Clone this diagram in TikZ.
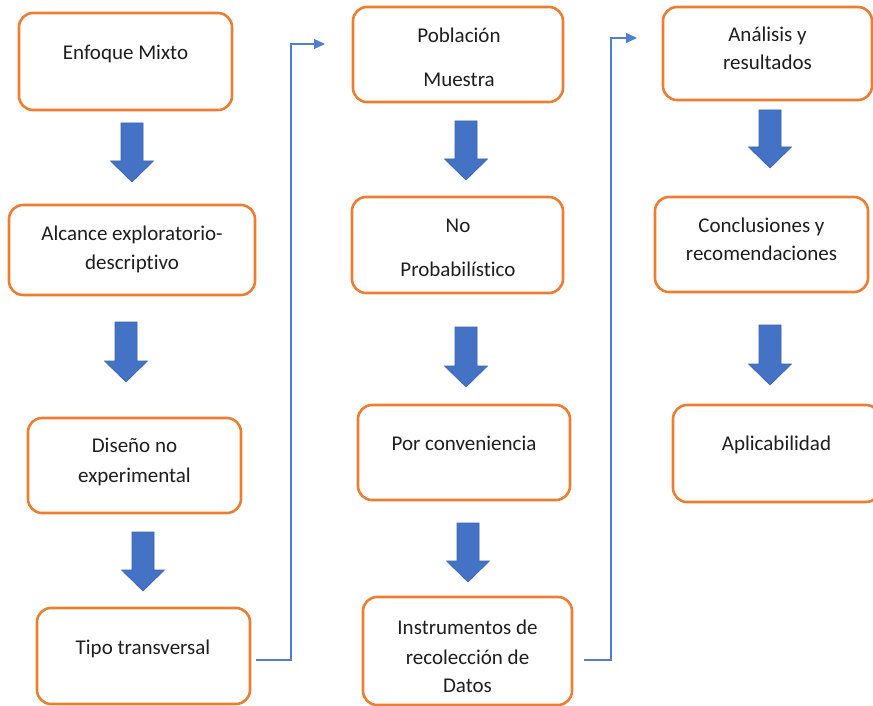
\documentclass[tikz,border=0pt]{standalone}
\usepackage{fontspec}
\setmainfont{Carlito}[Ligatures=NoCommon]
\usetikzlibrary{arrows.meta}
\definecolor{boxorange}{HTML}{ED7D31}
\definecolor{arrowblue}{HTML}{4472C4}
\definecolor{arrowedge}{HTML}{3A64AE}
\definecolor{linkblue}{HTML}{4F7FD0}
\definecolor{txtcol}{HTML}{1E1E1E}
\tikzset{
  flowbox/.style={draw=boxorange, line width=2.6pt, rounded corners=14pt, fill=white, inner sep=0pt, outer sep=0pt},
  txt/.style={anchor=base, inner sep=0pt, text=txtcol, font=\fontsize{21}{25}\selectfont},
  link/.style={draw=linkblue, line width=1.2pt},
  blockarrow/.style={fill=arrowblue, draw=arrowedge, line width=0.6pt},
}
\newcommand\blockarr[3]{%
  \begin{scope}[shift={(#1,#2)}]
    \pgfmathsetmacro\bl{#3-#2}
    \pgfmathsetmacro\bh{\bl-21}
    \draw[blockarrow] (-11,0) -- (11,0) -- (11,\bh) -- (21.5,\bh) -- (0,\bl) -- (-21.5,\bh) -- (-11,\bh) -- cycle;
  \end{scope}}
\begin{document}
\begin{tikzpicture}[x=1pt,y=-1pt]
\useasboundingbox[fill=white] (0,0) rectangle (873,706);
% boxes
\node[flowbox, minimum width=213pt, minimum height=97pt] (b1) at (125.5,61.5) {};
\node[flowbox, minimum width=246pt, minimum height=90pt] (b2) at (132,250) {};
\node[flowbox, minimum width=213pt, minimum height=95pt] (b3) at (134.5,465.5) {};
\node[flowbox, minimum width=213pt, minimum height=96pt] (b4) at (143.5,656) {};
\node[flowbox, minimum width=210pt, minimum height=95pt] (b5) at (458,54.5) {};
\node[flowbox, minimum width=211pt, minimum height=96pt] (b6) at (457.5,245) {};
\node[flowbox, minimum width=212pt, minimum height=95pt] (b7) at (464,452.5) {};
\node[flowbox, minimum width=209pt, minimum height=108pt] (b8) at (467.5,651) {};
\node[flowbox, minimum width=209pt, minimum height=93pt] (b9) at (767.5,53.5) {};
\node[flowbox, minimum width=213pt, minimum height=95pt] (b10) at (761.5,244.5) {};
\node[flowbox, minimum width=207pt, minimum height=97pt] (b11) at (776.5,453.5) {};
% texts
\node[txt] (t1) at (125.5,60) {Enfoque Mixto};
\node[txt] (t2a) at (132,240) {Alcance exploratorio-};
\node[txt] (t2b) at (132,269) {descriptivo};
\node[txt] (t3a) at (134.5,452) {Diseño no};
\node[txt] (t3b) at (134.5,482) {experimental};
\node[txt] (t4) at (143,654) {Tipo transversal};
\node[txt] (t5a) at (459,43) {Población};
\node[txt] (t5b) at (459,87) {Muestra};
\node[txt] (t6a) at (458,232) {No};
\node[txt] (t6b) at (458,276) {Probabilístico};
\node[txt] (t7) at (464,450) {Por conveniencia};
\node[txt] (t8a) at (467.5,634) {Instrumentos de};
\node[txt] (t8b) at (467.5,664) {recolección de};
\node[txt] (t8c) at (467.5,692) {Datos};
\node[txt] (t9a) at (767.5,42) {Análisis y};
\node[txt] (t9b) at (767.5,70) {resultados};
\node[txt] (t10a) at (761.5,232) {Conclusiones y};
\node[txt] (t10b) at (761.5,260) {recomendaciones};
\node[txt] (t11) at (776.5,450) {Aplicabilidad};
% block arrows
\blockarr{132}{123}{182}
\blockarr{126}{322}{382}
\blockarr{143}{532}{591}
\blockarr{466}{121}{180}
\blockarr{466}{327}{387}
\blockarr{468}{523}{582}
\blockarr{770}{110}{168}
\blockarr{770}{325}{385}
% connectors
\coordinate (l1a) at ([xshift=6pt,yshift=-4pt]b4.east);
\coordinate (l1b) at (325,44);
\draw[link,-{Triangle[length=11pt,width=10pt]}] (l1a) -- (291,660) -- (291,44) -- (l1b);
\coordinate (l2a) at ([xshift=12pt,yshift=-9pt]b8.east);
\coordinate (l2b) at (637,38);
\draw[link,-{Triangle[length=11pt,width=10pt]}] (l2a) -- (611,660) -- (611,38) -- (l2b);
\end{tikzpicture}
\end{document}
